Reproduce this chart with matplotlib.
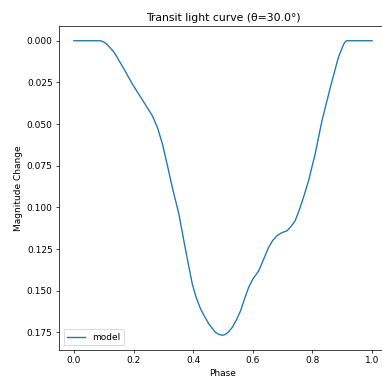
import matplotlib
matplotlib.use("Agg")
import matplotlib.pyplot as plt

phase = [0.00, 0.05, 0.09, 0.10, 0.11, 0.12, 0.135, 0.165, 0.196, 0.235,
         0.263, 0.28, 0.297, 0.315, 0.330, 0.352, 0.375, 0.397, 0.41, 0.425,
         0.44, 0.453, 0.465, 0.475, 0.487, 0.497, 0.507, 0.518, 0.531, 0.545,
         0.559, 0.572, 0.586, 0.60, 0.62, 0.653, 0.667, 0.681, 0.697, 0.715,
         0.73, 0.742, 0.755, 0.770, 0.787, 0.809, 0.832, 0.860, 0.887, 0.897,
         0.905, 0.91, 0.915, 1.00]
mag = [0.000, 0.000, 0.000, 0.0008, 0.002, 0.004, 0.007, 0.016, 0.026, 0.037,
       0.045, 0.052, 0.062, 0.076, 0.088, 0.104, 0.126, 0.146, 0.154, 0.161,
       0.166, 0.170, 0.1728, 0.175, 0.1762, 0.1767, 0.1763, 0.1748, 0.172, 0.1675,
       0.162, 0.155, 0.148, 0.143, 0.138, 0.124, 0.1198, 0.117, 0.1152, 0.114,
       0.111, 0.108, 0.102, 0.094, 0.084, 0.068, 0.048, 0.028, 0.010, 0.0055,
       0.002, 0.0007, 0.000, 0.000]

dpi = 65
fig = plt.figure(figsize=(382 / dpi, 391 / dpi), dpi=dpi)
ax = fig.add_axes([0.1545, 0.1049, 0.8585, 0.8286])
ax.plot(phase, mag, label="model")
ax.invert_yaxis()
ax.set_xlabel("Phase")
ax.set_ylabel("Magnitude Change")
ax.set_title("Transit light curve (θ=30.0°)")
ax.legend(loc="lower left")
fig.savefig("out.png", dpi=dpi)
